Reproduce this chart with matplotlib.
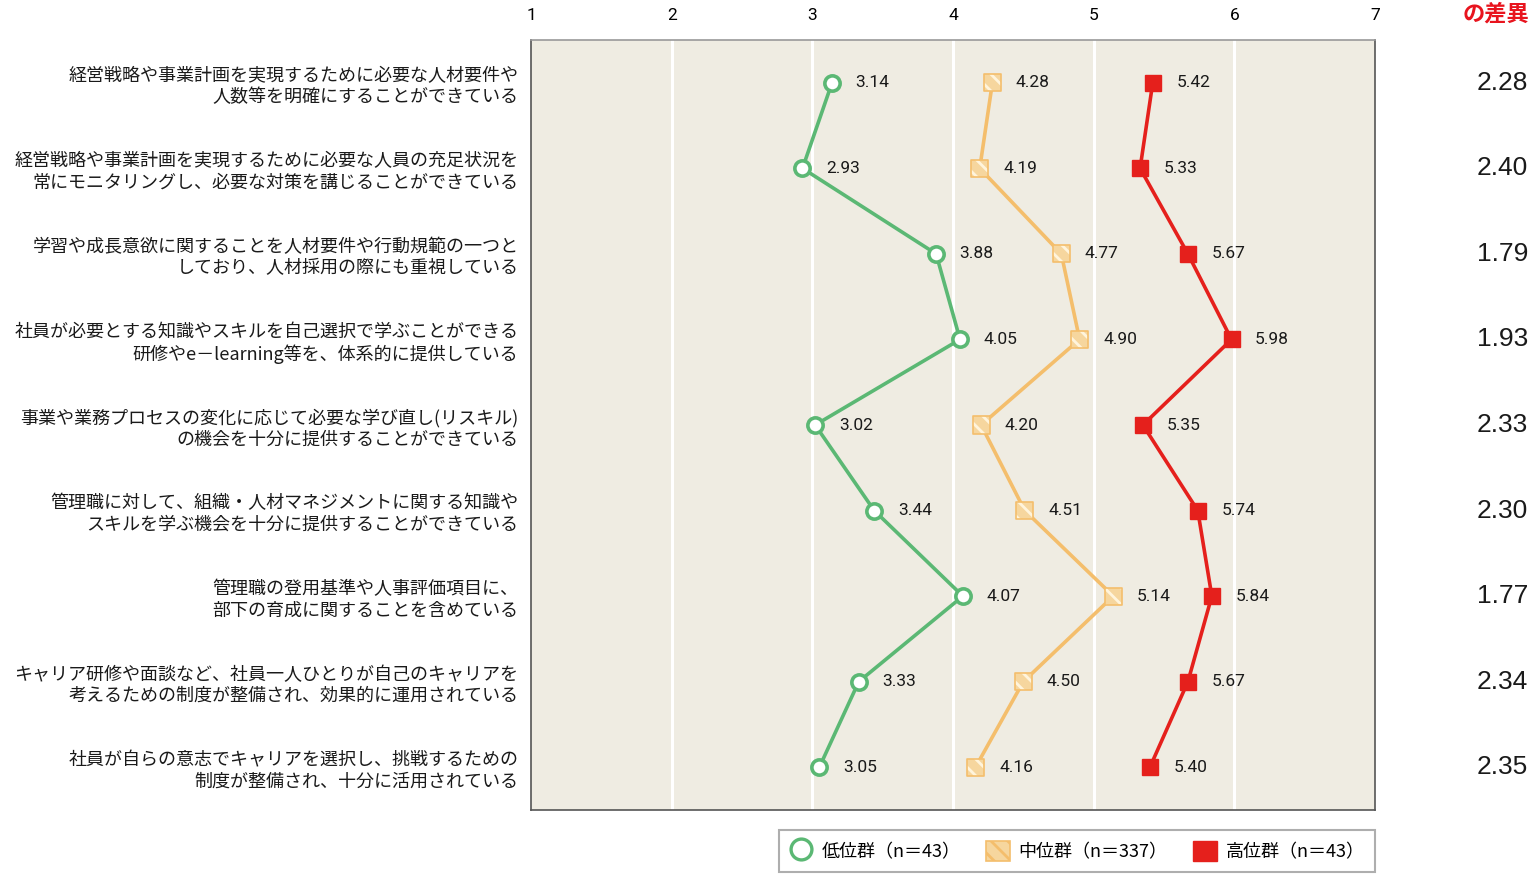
import matplotlib
matplotlib.use("Agg")
import matplotlib.pyplot as plt
from matplotlib.lines import Line2D
from matplotlib.patches import Patch
from matplotlib.transforms import blended_transform_factory

plt.rcParams['font.family'] = ['Noto Sans CJK JP', 'DejaVu Sans']
plt.rcParams['hatch.linewidth'] = 2.0

categories = [
    "経営戦略や事業計画を実現するために必要な人材要件や\n人数等を明確にすることができている",
    "経営戦略や事業計画を実現するために必要な人員の充足状況を\n常にモニタリングし、必要な対策を講じることができている",
    "学習や成長意欲に関することを人材要件や行動規範の一つと\nしており、人材採用の際にも重視している",
    "社員が必要とする知識やスキルを自己選択で学ぶことができる\n研修やe－learning等を、体系的に提供している",
    "事業や業務プロセスの変化に応じて必要な学び直し(リスキル)\nの機会を十分に提供することができている",
    "管理職に対して、組織・人材マネジメントに関する知識や\nスキルを学ぶ機会を十分に提供することができている",
    "管理職の登用基準や人事評価項目に、\n部下の育成に関することを含めている",
    "キャリア研修や面談など、社員一人ひとりが自己のキャリアを\n考えるための制度が整備され、効果的に運用されている",
    "社員が自らの意志でキャリアを選択し、挑戦するための\n制度が整備され、十分に活用されている",
]
low = [3.14, 2.93, 3.88, 4.05, 3.02, 3.44, 4.07, 3.33, 3.05]
mid = [4.28, 4.19, 4.77, 4.90, 4.20, 4.51, 5.14, 4.50, 4.16]
high = [5.42, 5.33, 5.67, 5.98, 5.35, 5.74, 5.84, 5.67, 5.40]
diff = [2.28, 2.40, 1.79, 1.93, 2.33, 2.30, 1.77, 2.34, 2.35]
series_names = ["低位群（n＝43）", "中位群（n＝337）", "高位群（n＝43）"]
x_ticks = [1, 2, 3, 4, 5, 6, 7]
diff_header = "の差異"

GREEN = "#5BB874"
ORANGE = "#F4BE6C"
ORANGE_FILL = "#F6D69E"
RED = "#E5201C"
BG = "#EFECE2"
NUM_FONT = ['Liberation Sans Narrow', 'Roboto', 'DejaVu Sans']

fig = plt.figure(figsize=(15.37, 8.8), dpi=100)
ax = fig.add_axes([531 / 1537, 1 - 810 / 880, 844 / 1537, 770 / 880])
ax.set_facecolor(BG)

y = list(range(len(categories)))
ax.set_xlim(1, 7)
ax.set_ylim(len(categories) - 0.5, -0.5)

for xv in x_ticks[1:-1]:
    ax.axvline(xv, color="white", lw=2.2, zorder=1)

# low group: open circles
ax.plot(low, y, color=GREEN, lw=2.6, zorder=3, marker="o", ms=11,
        mfc="white", mec=GREEN, mew=2.6)

# middle group: hatched squares
ax.plot(mid, y, color=ORANGE, lw=2.6, zorder=3)
ax.scatter(mid, y, marker="s", s=150, facecolor=ORANGE_FILL, edgecolor="#FFF4DC",
           hatch="\\\\", linewidths=0, zorder=4)
ax.scatter(mid, y, marker="s", s=150, facecolor="none", edgecolor=ORANGE,
           linewidths=1.2, zorder=5)

# high group: filled squares
ax.plot(high, y, color=RED, lw=2.6, zorder=3, marker="s", ms=11.5,
        mfc=RED, mec=RED)

for series in (low, mid, high):
    for xv, yv in zip(series, y):
        ax.annotate(f"{xv:.2f}", (xv, yv), xytext=(17, 0), textcoords="offset points",
                    ha="left", va="center", fontsize=12.5, family=NUM_FONT,
                    color="#1a1a1a", zorder=6)

ax.set_yticks(y)
ax.set_yticklabels(categories, fontsize=13.0, color="#1a1a1a", linespacing=1.25)
ax.tick_params(axis="y", length=0, pad=9)

ax.xaxis.tick_top()
ax.set_xticks(x_ticks)
ax.set_xticklabels([str(v) for v in x_ticks], family=NUM_FONT, fontsize=12.5)
ax.tick_params(axis="x", length=0, pad=12)

for sp in ax.spines.values():
    sp.set_color("#555555")
    sp.set_linewidth(1.2)
ax.spines["top"].set_color("#999999")

# difference column on the right
tr = blended_transform_factory(fig.transFigure, ax.transData)
for d, yv in zip(diff, y):
    ax.text(1528 / 1537, yv, f"{d:.2f}", transform=tr, ha="right", va="center",
            fontsize=19, family=['Liberation Sans', 'DejaVu Sans'], color="#1a1a1a",
            clip_on=False)
fig.text(1529 / 1537, 1 - 14 / 880, diff_header, ha="right", va="center",
         fontsize=16, fontweight="bold", color="#E8141E")

handles = [
    Line2D([], [], color="none", marker="o", ms=15, mfc="white", mec=GREEN, mew=2.4),
    Patch(facecolor=ORANGE_FILL, edgecolor=ORANGE, hatch="\\\\", linewidth=1.2),
    Patch(facecolor=RED, edgecolor=RED),
]
leg = fig.legend(handles, series_names, loc="center",
                 bbox_to_anchor=(1077 / 1537, 1 - 851 / 880), ncol=3,
                 fontsize=13, frameon=True, fancybox=False, edgecolor="#9a9a9a",
                 handlelength=1.3, handleheight=1.3, handletextpad=0.5,
                 columnspacing=1.4, borderpad=0.6, borderaxespad=0)
leg.get_frame().set_linewidth(1.5)

fig.savefig("out.png", dpi=100, facecolor="white")
